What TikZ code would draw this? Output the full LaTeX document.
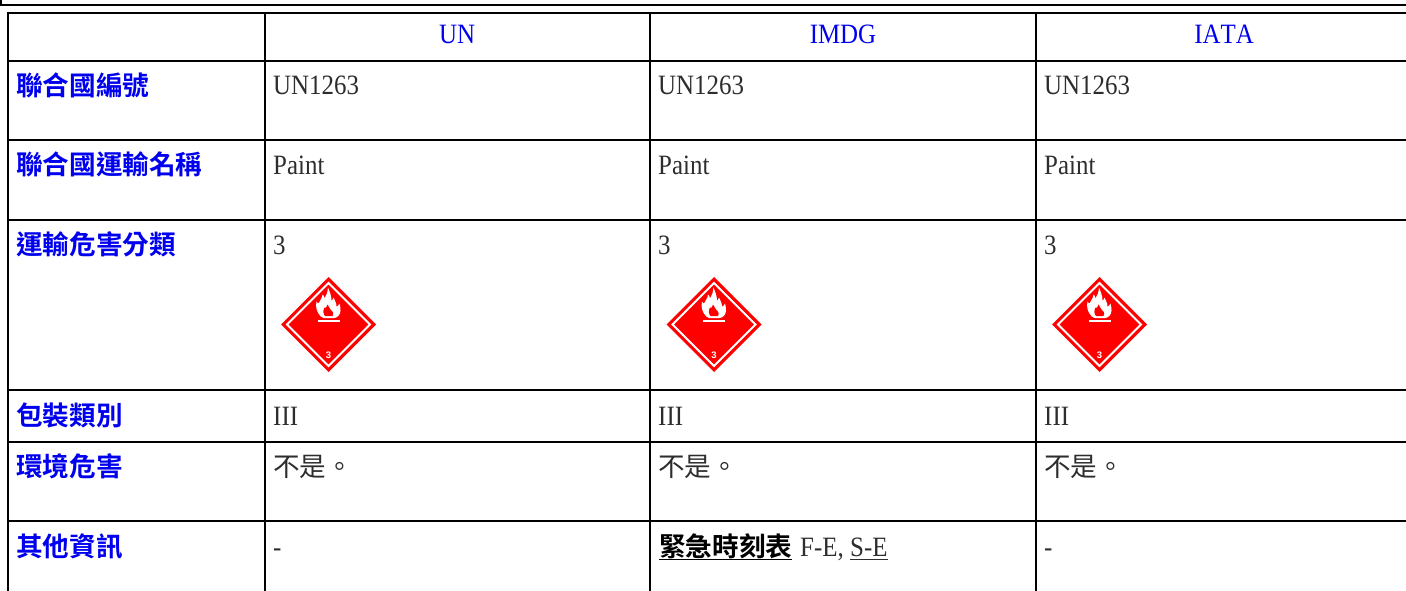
\documentclass[tikz,border=0pt]{standalone}
\usepackage{fontspec}
\setmainfont{Liberation Serif}
\newfontfamily\narrowserif[FakeStretch=0.89,Kerning=Off]{Liberation Serif}
\newfontfamily\cjk{Noto Sans CJK TC}
\newfontfamily\cjkb{Noto Sans CJK TC Bold}
\newfontfamily\hazsans{Liberation Sans}
\definecolor{linkblue}{RGB}{0,0,238}
\definecolor{bodytext}{RGB}{45,45,45}
\definecolor{hazred}{RGB}{255,0,0}
\tikzset{
  x=1pt,y=-1pt,
  rule/.style={line width=1.6pt,black},
  hdr/.style={anchor=base,inner sep=0pt,text=linkblue,font=\fontsize{28}{28}\selectfont\narrowserif},
  lab/.style={anchor=base west,inner sep=0pt,text=linkblue,font=\fontsize{26.6}{27}\selectfont\cjkb},
  val/.style={anchor=base west,inner sep=0pt,text=bodytext,font=\fontsize{28}{28}\selectfont\narrowserif},
  cval/.style={anchor=base west,inner sep=0pt,text=bodytext,font=\fontsize{26.6}{27}\selectfont\cjk},
  pics/hazard/.style={code={
    \fill[hazred] (0,-47.5) -- (47.5,0) -- (0,47.5) -- (-47.5,0) -- cycle;
    \draw[white,line width=2pt] (0,-41.5) -- (41.5,0) -- (0,41.5) -- (-41.5,0) -- cycle;
    \fill[white] (-0.5,-37) .. controls (-1,-32) and (-2,-29) .. (-4,-26)
      .. controls (-4,-28) and (-5,-29) .. (-6,-30)
      .. controls (-6,-26) and (-9,-24) .. (-10,-21)
      .. controls (-11,-21) and (-11,-22) .. (-12,-23)
      .. controls (-13,-18) and (-12,-14) .. (-10,-11)
      .. controls (-9,-9) and (-7,-7) .. (-5,-6.5)
      -- (6,-6.5)
      .. controls (9,-7) and (12,-10) .. (12,-14)
      .. controls (12,-16) and (12,-18) .. (11,-21)
      .. controls (10,-19) and (9,-18) .. (8,-18)
      .. controls (8,-22) and (6,-24) .. (5,-27)
      .. controls (4,-25) and (4,-24) .. (3,-24)
      .. controls (3,-29) and (1,-33) .. (-0.5,-37) -- cycle;
    \fill[hazred] (-1,-20) .. controls (-2,-17) and (-3,-16) .. (-4,-17)
      .. controls (-6,-14) and (-5,-10) .. (-3.5,-8.5)
      -- (4,-8.5) .. controls (6,-12) and (3,-14) .. (2,-15)
      .. controls (1,-17) and (0,-18) .. (-1,-20) -- cycle;
    \fill[white] (-11,-4.3) rectangle (11,-2.3);
    \node[inner sep=0pt,text=white,font=\hazsans\bfseries\fontsize{9.5}{9.5}\selectfont] at (0,30.5) {3};
  }},
}
\begin{document}
\begin{tikzpicture}
\useasboundingbox (0,0) rectangle (1406,591);
% top frame
\draw[rule] (1,0) -- (1,5) -- (1406,5);
% table rules
\draw[rule] (8,591) -- (8,13) -- (1406,13);
\foreach \yy in {61,140,220,390,442,521} \draw[rule] (8,\yy) -- (1406,\yy);
\foreach \xx in {265,650,1036} \draw[rule] (\xx,13) -- (\xx,591);
% header
\node[hdr] (hun) at (457,44) {UN};
\node[hdr] (himdg) at (843,44) {IMDG};
\node[hdr] (hiata) at (1224,44) {IATA};
% row labels
\node[lab] (l1) at (16,96) {聯合國編號};
\node[lab] (l2) at (16,175) {聯合國運輸名稱};
\node[lab] (l3) at (16,254) {運輸危害分類};
\node[lab] (l4) at (16,425) {包裝類別};
\node[lab] (l5) at (16,476) {環境危害};
\node[lab] (l6) at (16,556) {其他資訊};
% values
\foreach \cx/\cn in {273/a,658/b,1044/c}{
  \node[val] (r1\cn) at (\cx,95) {UN1263};
  \node[val] (r2\cn) at (\cx,175) {Paint};
  \node[val] (r3\cn) at (\cx,254) {3};
  \node[val] (r4\cn) at (\cx,425) {III};
  \node[cval] (r5\cn) at (\cx,476) {不是。};
}
\pic at (328.5,324.5) {hazard};
\pic at (714,324.5) {hazard};
\pic at (1099.5,324.5) {hazard};
\node[val] (r6a) at (273,556) {-};
\node[val] (r6c) at (1044,556) {-};
\node[anchor=base west,inner sep=0pt,text=black,font=\fontsize{26.6}{27}\selectfont\cjkb] (r6b) at (659,556) {緊急時刻表};
\node[val] (r6d) at (800,556) {F-E,};
\node[val] (r6e) at (850,556) {S-E};
\draw[black,line width=1pt] (r6b.base west)++(0,3) -- ++(133,0);
\draw[bodytext,line width=1pt] (r6e.base west)++(0,3) -- ++(38,0);
\end{tikzpicture}
\end{document}
